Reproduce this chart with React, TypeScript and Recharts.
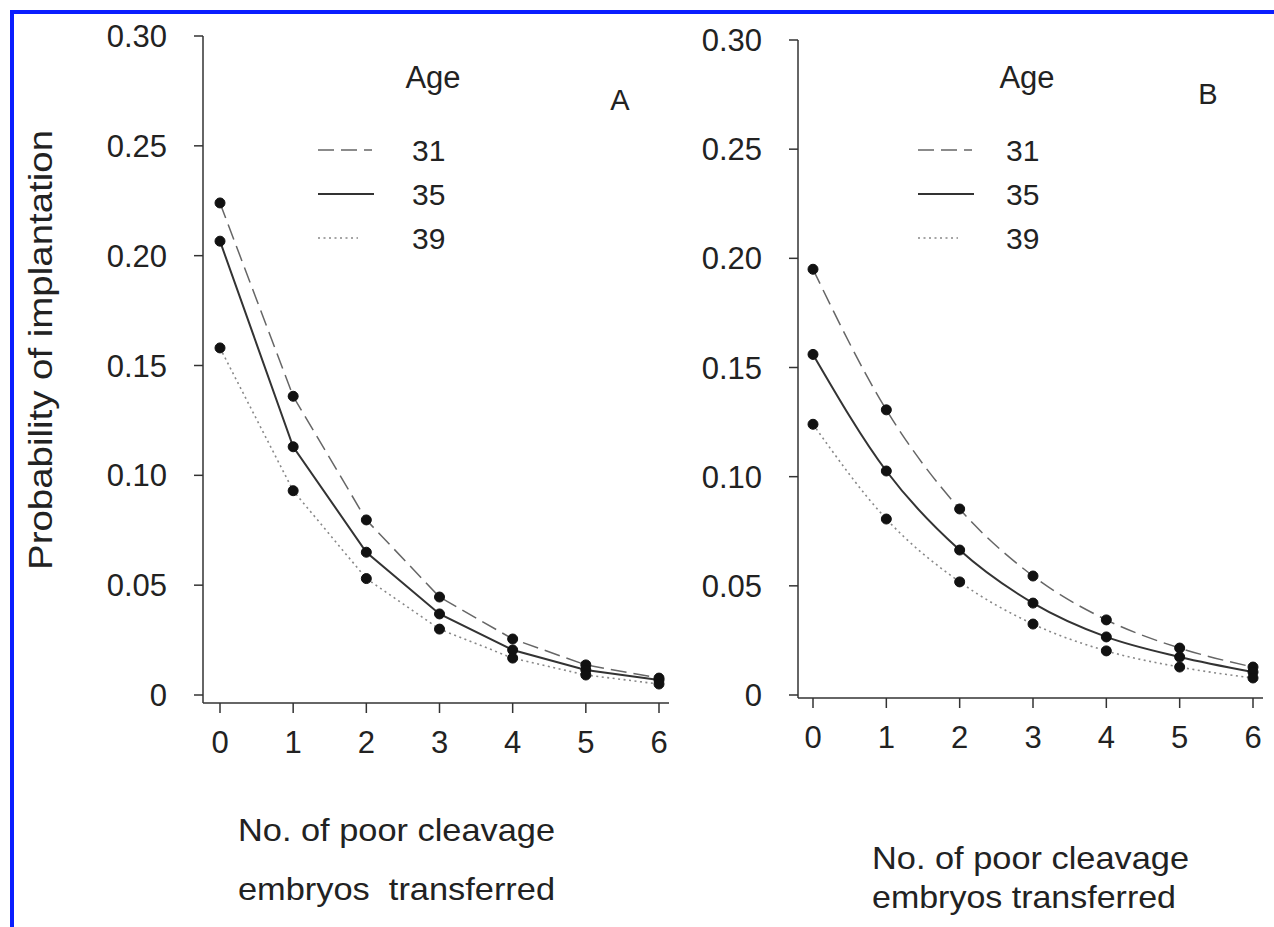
// Probability of implantation vs no. of poor cleavage embryos, two panels (A, B) by age.
import { LineChart, Line, XAxis, YAxis } from "recharts";

const X_VALUES = [0, 1, 2, 3, 4, 5, 6];
const Y_TICKS = [0, 0.05, 0.1, 0.15, 0.2, 0.25, 0.3];
const AGES = ["31", "35", "39"];

const A_AGE31 = [0.224, 0.136, 0.0797, 0.0446, 0.0255, 0.0137, 0.0077];
const A_AGE35 = [0.2066, 0.113, 0.065, 0.0369, 0.0205, 0.0114, 0.0068];
const A_AGE39 = [0.158, 0.093, 0.053, 0.03, 0.0168, 0.0091, 0.005];

const B_AGE31 = [0.195, 0.1306, 0.0852, 0.0545, 0.0344, 0.0215, 0.0128];
const B_AGE35 = [0.156, 0.1026, 0.0664, 0.0421, 0.0266, 0.0174, 0.0105];
const B_AGE39 = [0.124, 0.0806, 0.0518, 0.0325, 0.0202, 0.0128, 0.0078];

const FONT = "'Liberation Sans', Arial, Helvetica, sans-serif";
const INK = "#222";
const H = 927;

const SERIES_STYLE = [
  { stroke: "#666", strokeWidth: 1.5, dash: "16 7", legendLen: 54 },
  { stroke: "#333", strokeWidth: 2, dash: undefined, legendLen: 56 },
  { stroke: "#888", strokeWidth: 1.6, dash: "2 3.5", legendLen: 40 },
];

const buildRows = (s31: number[], s35: number[], s39: number[]) =>
  X_VALUES.map((x, i) => ({ x, a31: s31[i], a35: s35[i], a39: s39[i] }));

const fmtY = (v: number) => (v === 0 ? "0" : v.toFixed(2));

function AgeLegend({ left, top, xOff }: { left: number; top: number; xOff: number }) {
  return (
    <svg width={220} height={230} style={{ position: "absolute", left, top, overflow: "visible" }}>
      <text x={133 + xOff} y={27} textAnchor="middle" dominantBaseline="central"
        fontFamily={FONT} fontSize={31} fill={INK}>Age</text>
      {AGES.map((age, i) => {
        const y = 100 + i * 44;
        const st = SERIES_STYLE[i];
        return (
          <g key={age}>
            <line x1={18} x2={18 + st.legendLen} y1={y} y2={y} stroke={st.stroke}
              strokeWidth={st.strokeWidth} strokeDasharray={st.dash} />
            <text x={112 + xOff} y={y} dominantBaseline="central" fontFamily={FONT}
              fontSize={30} fill={INK}>{age}</text>
          </g>
        );
      })}
    </svg>
  );
}

interface PanelProps {
  rows: ReturnType<typeof buildRows>;
  letter: string;
  letterPos: [number, number];
  left: number;
  width: number;
  marginLeft: number;
  top: number;
  axisY: number;
  yPadBottom: number;
  xPadLeft: number;
  curve: "linear" | "monotone";
  legendPos: [number, number];
  legendXOff: number;
  xLabelPos: [number, number, number];
  xLabelLine2: string;
  line2Len: number;
  showYLabel?: boolean;
}

function Panel(p: PanelProps) {
  const keys = ["a31", "a35", "a39"];
  return (
    <div style={{ position: "absolute", left: p.left, top: 0 }}>
      <LineChart width={p.width} height={H} data={p.rows}
        margin={{ top: p.top, right: 11, left: p.marginLeft, bottom: H - p.axisY - 60 }}>
        <XAxis dataKey="x" type="number" domain={[0, 6]} ticks={X_VALUES}
          padding={{ left: p.xPadLeft, right: 10 }} height={60}
          stroke="#333" strokeWidth={1.5} tickSize={10} tickMargin={18}
          tick={{ fontSize: 31, fill: INK, fontFamily: FONT }}
          label={{
            content: () => (
              <g fontFamily={FONT} fontSize={32} fill={INK}>
                <text x={p.xLabelPos[0] - 158} y={p.xLabelPos[1]} textLength={317}
                  lengthAdjust="spacingAndGlyphs">No. of poor cleavage</text>
                <text x={p.xLabelPos[0] - 158} y={p.xLabelPos[2]} textLength={p.line2Len}
                  lengthAdjust="spacingAndGlyphs">{p.xLabelLine2}</text>
              </g>
            ),
          }} />
        <YAxis type="number" domain={[0, 0.3]} ticks={Y_TICKS} width={100}
          padding={{ bottom: p.yPadBottom }} tickFormatter={fmtY}
          stroke="#333" strokeWidth={1.5} tickSize={9} tickMargin={27}
          tick={{ fontSize: 31, fill: INK, fontFamily: FONT }}
          label={p.showYLabel ? {
            content: () => (
              <text x={40} y={350} transform="rotate(-90 40 350)" textAnchor="middle"
                dominantBaseline="central" fontFamily={FONT} fontSize={33} fill={INK}
                textLength={440} lengthAdjust="spacingAndGlyphs">
                Probability of implantation
              </text>
            ),
          } : undefined} />
        {keys.map((k, i) => (
          <Line key={k} dataKey={k} name={AGES[i]} type={p.curve}
            stroke={SERIES_STYLE[i].stroke} strokeWidth={SERIES_STYLE[i].strokeWidth}
            strokeDasharray={SERIES_STYLE[i].dash}
            dot={{ r: 5, fill: "#111", stroke: "#111", strokeWidth: 1, strokeDasharray: "" }}
            isAnimationActive={false} />
        ))}
      </LineChart>
      <AgeLegend left={p.legendPos[0]} top={p.legendPos[1]} xOff={p.legendXOff} />
      <div style={{ position: "absolute", left: p.letterPos[0], top: p.letterPos[1], fontFamily: FONT,
        fontSize: 29, color: INK, transform: "translate(-50%, -50%)" }}>{p.letter}</div>
    </div>
  );
}

export default function App() {
  return (
    <div style={{ position: "absolute", left: 0, top: 0, width: 1274, height: H, background: "#fff", overflow: "hidden" }}>
      <div style={{ position: "absolute", left: 10, top: 10, width: 1264, height: 917,
        borderTop: "4px solid #0a1eff", borderLeft: "4px solid #0a1eff" }} />
      <Panel rows={buildRows(A_AGE31, A_AGE35, A_AGE39)} letter="A" letterPos={[620, 100]}
        left={0} width={680} marginLeft={103} top={36} axisY={703} yPadBottom={8} xPadLeft={17}
        curve="linear" legendPos={[300, 50]} legendXOff={0} xLabelPos={[396, 841, 900]}
        xLabelLine2={"embryos\u00a0 transferred"} line2Len={317} showYLabel />
      <Panel rows={buildRows(B_AGE31, B_AGE35, B_AGE39)} letter="B" letterPos={[608, 94]}
        left={600} width={674} marginLeft={98} top={40} axisY={698} yPadBottom={3} xPadLeft={15}
        curve="monotone" legendPos={[300, 50]} legendXOff={-6} xLabelPos={[430, 869, 908]}
        xLabelLine2="embryos transferred" line2Len={304} />
    </div>
  );
}
